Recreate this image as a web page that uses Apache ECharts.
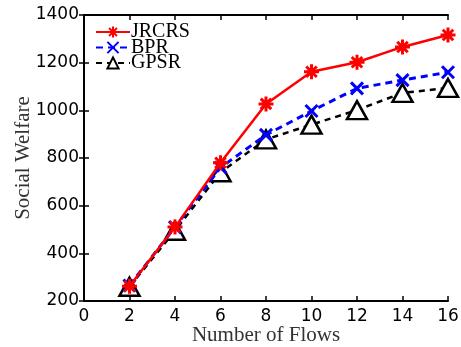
<!DOCTYPE html>
<html>
<head>
<meta charset="utf-8">
<script src="https://cdn.jsdelivr.net/npm/echarts@6/dist/echarts.min.js"></script>
<style>
  html, body { margin: 0; padding: 0; background: #fff; }
  #chart { width: 461px; height: 347px; }
</style>
</head>
<body>
<div id="chart"></div>
<script>
// number of flows
const flows = [2, 4, 6, 8, 10, 12, 14, 16]
// social welfare per scheme
const jrcrs = [262, 510, 780, 1027, 1162, 1202, 1266, 1316]
const bpr = [265, 510, 760, 897, 997, 1092, 1127, 1160]
const gpsr = [260, 495, 740, 878, 940, 1001, 1073, 1094]

const serif = '"Liberation Serif", "DejaVu Serif", serif'
const sans = '"DejaVu Sans", "Liberation Sans", sans-serif'

const toPairs = (ys) => flows.map((x, i) => [x, ys[i]])

const chart = echarts.init(document.getElementById('chart'))

const asterisk = 'path://M10,0 L10,20 M0,10 L20,10 M3,3 L17,17 M17,3 L3,17'
const cross = 'path://M0,0 L20,20 M20,0 L0,20'

const axisCommon = {
  axisLine: { show: true, lineStyle: { color: '#000', width: 2 } },
  axisTick: { show: true, inside: true, length: 5, lineStyle: { color: '#000', width: 1.5 } },
  splitLine: { show: false }
}

const option = {
  animation: false,
  backgroundColor: '#fff',
  grid: { left: 84, right: 13, top: 15, bottom: 46, outerBoundsMode: 'none', containLabel: false },
  legend: {
    orient: 'vertical',
    left: 90,
    top: 17,
    itemWidth: 34,
    itemHeight: 14,
    itemGap: -4.5,
    textStyle: { fontFamily: serif, fontSize: 20, color: '#000', padding: [0, 0, 0, -4] },
    data: ['JRCRS', 'BPR', 'GPSR']
  },
  xAxis: [
    {
      type: 'value', min: 0, max: 16, interval: 2,
      name: 'Number of Flows', nameLocation: 'middle', nameGap: 24, nameMoveOverlap: false,
      nameTextStyle: { fontFamily: serif, fontSize: 21, color: '#333' },
      axisLabel: { fontFamily: sans, fontSize: 17, color: '#000', margin: 7 },
      ...axisCommon
    },
    {
      type: 'value', min: 0, max: 16, interval: 2, position: 'top',
      axisLabel: { show: false },
      ...axisCommon
    }
  ],
  yAxis: [
    {
      type: 'value', min: 200, max: 1400, interval: 200,
      name: 'Social Welfare', nameLocation: 'middle', nameGap: 50, nameMoveOverlap: false,
      nameTextStyle: { fontFamily: serif, fontSize: 21, color: '#333' },
      axisLabel: { fontFamily: sans, fontSize: 17, color: '#000', margin: 5, formatter: (v) => String(v) },
      ...axisCommon
    },
    {
      type: 'value', min: 200, max: 1400, interval: 200, position: 'right',
      axisLabel: { show: false },
      ...axisCommon
    }
  ],
  series: [
    {
      name: 'GPSR', type: 'line', data: toPairs(gpsr), z: 3,
      symbol: 'triangle', symbolSize: [20, 18],
      lineStyle: { color: '#000', width: 2.5, type: [6, 5] },
      itemStyle: { color: '#fff', borderColor: '#000', borderWidth: 2.5 }
    },
    {
      name: 'BPR', type: 'line', data: toPairs(bpr), z: 4,
      symbol: cross, symbolSize: 12,
      lineStyle: { color: '#0000ff', width: 3, type: [7, 5] },
      itemStyle: { color: 'none', borderColor: '#0000ff', borderWidth: 3 }
    },
    {
      name: 'JRCRS', type: 'line', data: toPairs(jrcrs), z: 5,
      symbol: asterisk, symbolSize: 15,
      lineStyle: { color: '#ff0000', width: 2.5 },
      itemStyle: { color: 'none', borderColor: '#ff0000', borderWidth: 3 }
    }
  ]
}

chart.setOption(option)
</script>
</body>
</html>
